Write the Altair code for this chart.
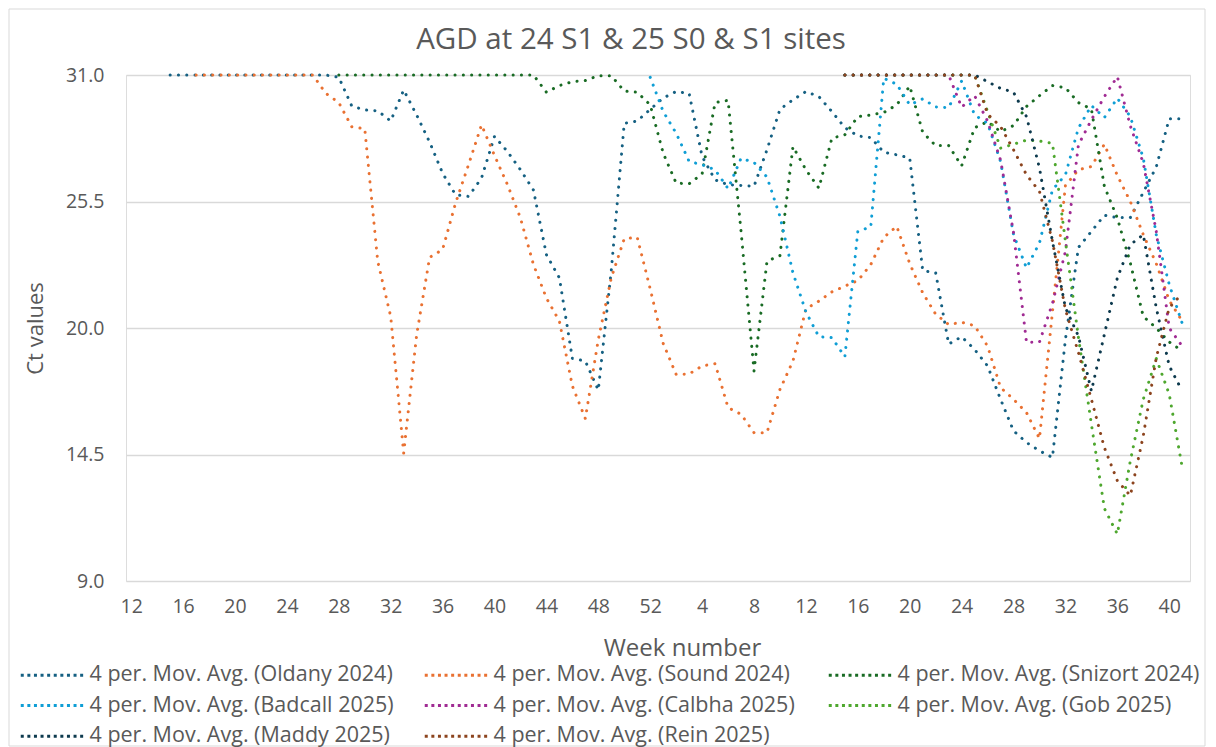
import altair as alt
import pandas as pd

# Week index: 2024 week w -> w ; 2025 week w -> 52 + w
series_names = [
    "4 per. Mov. Avg. (Oldany 2024)",
    "4 per. Mov. Avg. (Sound 2024)",
    "4 per. Mov. Avg. (Snizort 2024)",
    "4 per. Mov. Avg. (Badcall 2025)",
    "4 per. Mov. Avg. (Calbha 2025)",
    "4 per. Mov. Avg. (Gob 2025)",
    "4 per. Mov. Avg. (Maddy 2025)",
    "4 per. Mov. Avg. (Rein 2025)",
]
series_colors = ["#156082", "#E97132", "#196B24", "#0F9ED5",
                 "#A02B93", "#4EA72E", "#0D3A4E", "#8C441E"]

oldany_start = 15
oldany = [31, 31, 31, 31, 31, 31, 31, 31, 31, 31, 31, 31, 31, 30.9,
          29.65, 29.48, 29.44, 29.0, 30.35, 29.26, 28.08, 26.73, 25.79, 25.72,
          26.52, 28.33, 27.67, 26.88, 26.0, 23.19, 22.18, 18.68, 18.56, 17.3,
          22.5, 28.9, 29.0, 29.5, 30.0, 30.28, 30.2, 27.46, 26.44, 26.23,
          26.2, 26.16, 27.75, 29.51, 29.92, 30.28, 30.06, 29.41, 28.71, 28.35,
          28.28, 27.64, 27.53, 27.39, 22.5, 22.4, 19.3, 19.62, 19.07, 18.35,
          16.9, 15.53, 15.02, 14.66, 14.37, 19.5, 23.5, 24.2, 24.9, 24.8,
          24.8, 25.9, 27.0, 29.1, 29.1]

sound_start = 17
sound = [31, 31, 31, 31, 31, 31, 31, 31, 31, 31,
         30.2, 29.8, 28.75, 28.66, 22.9, 20.5, 14.56, 19.7, 23.07, 23.41,
         25.43, 27.1, 28.83, 27.5, 26.23, 24.78, 22.76, 21.3, 20.3, 17.48,
         16.06, 19.5, 22.18, 23.88, 23.94, 21.7, 19.33, 17.98, 18.0, 18.35,
         18.45, 16.54, 16.25, 15.45, 15.45, 17.33, 18.56, 20.83, 21.17, 21.57,
         21.82, 22.06, 22.76, 23.94, 24.42, 22.8, 21.53, 20.6, 20.15, 20.25,
         20.1, 19.21, 17.41, 16.9, 16.32, 15.19, 20.7, 26.2, 26.88, 27.02,
         27.99, 26.63, 25.5, 24.06, 22.8, 21.2, 20.3]

snizort_start = 28
snizort = [31, 31, 31, 31, 31, 31, 31, 31, 31, 31, 31, 31, 31, 31, 31, 31,
           30.25, 30.54, 30.71, 30.76, 30.97, 30.97, 30.3, 30.25, 29.7, 27.6,
           26.3, 26.27, 26.7, 29.8, 29.9, 24.2, 18.13, 22.9, 23.15, 27.89,
           26.88, 26.08, 28.25, 28.4, 29.19, 29.26, 29.37, 29.7, 30.52, 28.51,
           27.93, 27.93, 27.05, 28.71, 28.97, 28.54, 28.8, 29.63, 30.1, 30.54,
           30.45, 29.8, 29.52, 26.16, 24.78, 22.83, 20.5, 20.0, 19.39, 19.0]

badcall_start = 52
badcall = [30.9, 29.41, 28.47, 27.24, 27.1, 26.88, 26.06, 27.38, 27.2, 26.56,
           24.85, 22.4, 20.7, 19.62, 19.58, 18.75, 24.2, 24.4, 30.86, 30.6,
           29.7, 29.96, 29.61, 29.58, 30.74, 29.26, 28.9, 27.24, 24.06, 22.61,
           23.7, 26.01, 26.66, 28.69, 29.67, 29.15, 29.99, 29.19, 27.38, 24.06,
           21.89, 20.2]

calbha_start = 67
calbha = [31, 31, 31, 31, 31, 31, 31, 31, 31, 29.6, 30.1, 29.0, 27.3, 24.15,
          19.37, 19.39, 21.07, 23.33, 27.96, 29.05, 30.06, 30.93, 28.79, 27.17,
          24.2, 20.0, 19.21]

gob_start = 67
gob = [31, 31, 31, 31, 31, 31, 31, 31, 31, 31, 31, 29.41, 27.82, 27.99,
       28.17, 28.13, 28.03, 23.77, 19.6, 15.82, 12.16, 11.04, 14.22, 16.9,
       18.67, 17.12, 13.94]

maddy_start = 67
maddy = [31, 31, 31, 31, 31, 31, 31, 31, 31, 31, 31, 30.71, 30.42, 30.25,
         29.19, 26.95, 23.77, 20.88, 19.65, 17.26, 19.72, 22.18, 23.62, 24.06,
         20.88, 18.35, 17.26]

rein_start = 67
rein = [31, 31, 31, 31, 31, 31, 31, 31, 31, 31, 31, 29.3, 28.76, 27.75,
        26.66, 25.94, 23.77, 20.8, 18.93, 16.9, 14.8, 13.36, 12.71, 15.31,
        18.71, 20.88, 21.5]

y_ticks = [9.0, 14.5, 20.0, 25.5, 31.0]
x_ticks = list(range(12, 93, 4))

starts = [oldany_start, sound_start, snizort_start, badcall_start,
          calbha_start, gob_start, maddy_start, rein_start]
values = [oldany, sound, snizort, badcall, calbha, gob, maddy, rein]

rows = []
for k, (name, st, vals) in enumerate(zip(series_names, starts, values)):
    for i, v in enumerate(vals):
        rows.append({"t": st + i, "v": v, "series": name, "k": k})
df = pd.DataFrame(rows)

FONT = "Open Sans"
GREY = "#595959"
W, H = 1064, 506
PAD_BOTTOM = 166

lines = alt.Chart(df).mark_line(
    strokeWidth=3, strokeDash=[0.1, 8.2], strokeCap="round", strokeJoin="round"
).encode(
    x=alt.X("t:Q",
            scale=alt.Scale(domain=[11.6, 93.6], nice=False, zero=False),
            axis=alt.Axis(values=x_ticks,
                          labelExpr="datum.value > 52 ? datum.value - 52 : datum.value",
                          title="Week number", grid=False, ticks=False, domain=False,
                          labelFont=FONT, labelFontSize=19.5, labelColor=GREY,
                          labelPadding=16, titleFont=FONT, titleFontSize=24,
                          titleFontWeight="normal", titleColor=GREY,
                          titleX=556, titleY=67, titleBaseline="middle",
                          titleAlign="center", labelFlush=False)),
    y=alt.Y("v:Q",
            scale=alt.Scale(domain=[9, 31], nice=False, zero=False),
            axis=alt.Axis(values=y_ticks, format=".1f", title="Ct values",
                          grid=True, gridColor="#D9D9D9", gridWidth=1.4,
                          ticks=False, domain=False,
                          labelFont=FONT, labelFontSize=19.5, labelColor=GREY,
                          labelPadding=22, titleFont=FONT, titleFontSize=22,
                          titleFontWeight="normal", titleColor=GREY,
                          titlePadding=18)),
    color=alt.Color("series:N",
                    scale=alt.Scale(domain=series_names, range=series_colors),
                    legend=alt.Legend(orient="none", legendX=-108, legendY=589,
                                      columns=3, direction="horizontal",
                                      gridAlign="all", title=None,
                                      symbolType="M-1,0H7", symbolSize=256,
                                      symbolStrokeWidth=3, symbolDash=[3, 3.6],
                                      labelFont=FONT, labelFontSize=21.5,
                                      labelColor=GREY, labelOffset=50,
                                      rowPadding=7.8, columnPadding=24,
                                      labelLimit=500)),
    order=alt.Order("t:Q"),
)

border = alt.Chart(pd.DataFrame({"a": [0]})).mark_rect(
    fill=None, stroke="#D9D9D9", strokeWidth=1
).encode(
    x=alt.value(-117), x2=alt.value(W + 15), y=alt.value(-66),
    y2=alt.value(H + PAD_BOTTOM - 1)
)

chart = alt.layer(border, lines).properties(
    width=W, height=H,
    padding={"left": 118, "top": 67, "right": 16, "bottom": PAD_BOTTOM},
    autosize=alt.AutoSizeParams(type="none"),
    title=alt.TitleParams("AGD at 24 S1 & 25 S0 & S1 sites", font=FONT,
                          fontSize=29.5, fontWeight="normal", color=GREY,
                          anchor="middle", frame="group", dx=-27, offset=-47),
).configure_view(stroke=None).configure(background="white")

chart.save("out.html", embed_options={"renderer": "svg", "actions": False})
